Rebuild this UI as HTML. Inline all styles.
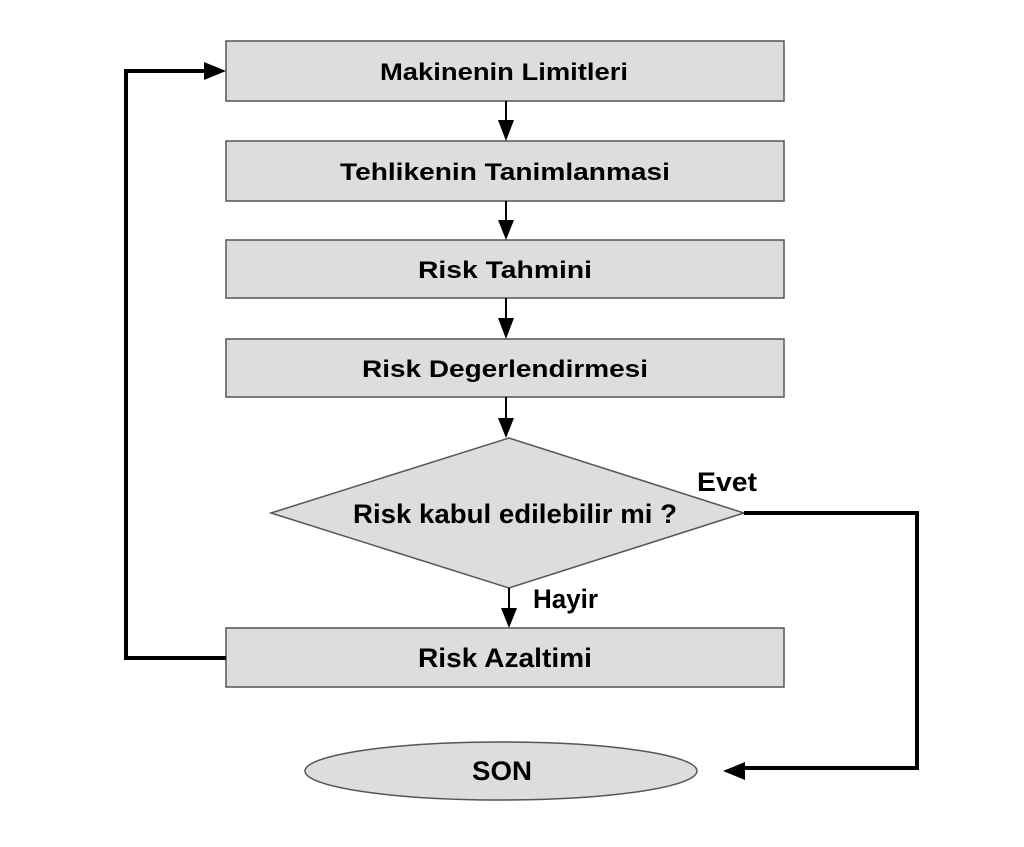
<!DOCTYPE html>
<html><head><meta charset="utf-8"><style>
html,body{margin:0;padding:0;background:#fff;}
svg{display:block;}
text{font-family:"Liberation Sans",Arial,sans-serif;font-weight:bold;font-size:24px;fill:#000;}
.t{font-size:27px;}
</style></head><body>
<svg width="1024" height="847" viewBox="0 0 1024 847" xmlns="http://www.w3.org/2000/svg">
<g fill="#dddddd" stroke="#555" stroke-width="1.5">
<rect x="226" y="41" width="558" height="60"/>
<rect x="226" y="141" width="558" height="60"/>
<rect x="226" y="240" width="558" height="58"/>
<rect x="226" y="339" width="558" height="58"/>
<rect x="226" y="628" width="558" height="59"/>
<polygon points="271,513 509,438 744,513 509,588"/>
<ellipse cx="501" cy="771" rx="196" ry="29"/>
</g>
<g text-anchor="middle">
<text x="504" y="80" textLength="248" lengthAdjust="spacingAndGlyphs">Makinenin Limitleri</text>
<text x="505" y="180" textLength="330" lengthAdjust="spacingAndGlyphs">Tehlikenin Tanimlanmasi</text>
<text x="505" y="278" textLength="174" lengthAdjust="spacingAndGlyphs">Risk Tahmini</text>
<text x="505" y="377" textLength="286" lengthAdjust="spacingAndGlyphs">Risk Degerlendirmesi</text>
<text class="t" x="515" y="523" textLength="324" lengthAdjust="spacingAndGlyphs">Risk kabul edilebilir mi ?</text>
<text class="t" x="505" y="667" textLength="174" lengthAdjust="spacingAndGlyphs">Risk Azaltimi</text>
<text class="t" x="502" y="780" textLength="60" lengthAdjust="spacingAndGlyphs">SON</text>
</g>
<text class="t" x="697" y="491" textLength="60" lengthAdjust="spacingAndGlyphs">Evet</text>
<text class="t" x="533" y="608" textLength="65" lengthAdjust="spacingAndGlyphs">Hayir</text>
<g stroke="#000" stroke-width="2" fill="none">
<line x1="506" y1="101" x2="506" y2="124"/>
<line x1="506" y1="201" x2="506" y2="224"/>
<line x1="506" y1="298" x2="506" y2="322"/>
<line x1="506" y1="397" x2="506" y2="421"/>
<line x1="509" y1="588" x2="509" y2="611"/>
</g>
<g fill="#000">
<polygon points="498,120 514,120 506,141"/>
<polygon points="498,220 514,220 506,240"/>
<polygon points="498,318 514,318 506,339"/>
<polygon points="498,418 514,418 506,438"/>
<polygon points="501,608 517,608 509,628"/>
<polygon points="204,62 226,71 204,80"/>
<polygon points="745,762 723,771 745,780"/>
</g>
<g stroke="#000" stroke-width="4" fill="none">
<polyline points="226,658 126,658 126,71 206,71"/>
<polyline points="744,513 917,513 917,768 743,768"/>
</g>
</svg>
</body></html>
